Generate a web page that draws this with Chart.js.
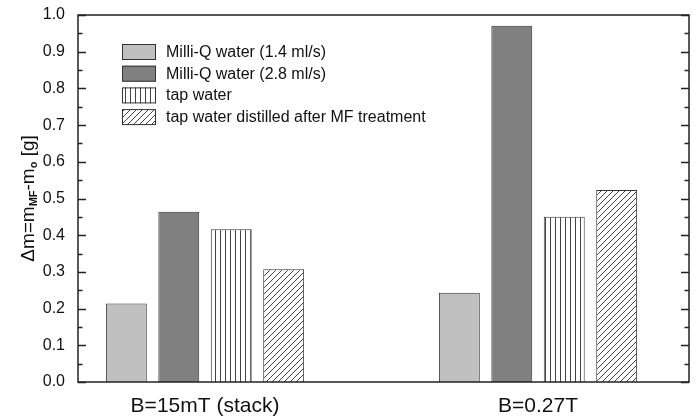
<!DOCTYPE html>
<html>
<head>
<meta charset="utf-8">
<script src="https://cdn.jsdelivr.net/npm/chart.js@4.4.0/dist/chart.umd.min.js"></script>
<style>
  html, body { margin: 0; padding: 0; background: #fff; }
  #wrap { width: 696px; height: 419px; }
</style>
</head>
<body>
<div id="wrap"><canvas id="grafica"></canvas></div>
<script>
const categorias = ["B=15mT (stack)", "B=0.27T"];
const nombres = [
  "Milli-Q water (1.4 ml/s)",
  "Milli-Q water (2.8 ml/s)",
  "tap water",
  "tap water distilled after MF treatment",
];
const milliQ14 = [0.214, 0.243];
const milliQ28 = [0.464, 0.971];
const aguaGrifo = [0.416, 0.45];
const destiladaMF = [0.307, 0.523];
const yMin = 0;
const yMax = 1.0;
const yPaso = 0.1;

const fuente = "'Liberation Sans', Arial, sans-serif";

// patrones de relleno
function rayasVerticales() {
  const c = document.createElement("canvas");
  c.width = 5; c.height = 5;
  const g = c.getContext("2d");
  g.fillStyle = "#fff";
  g.fillRect(0, 0, 5, 5);
  g.fillStyle = "#444";
  g.fillRect(0, 0, 1, 5);
  return g.createPattern(c, "repeat");
}
function rayasDiagonales() {
  const s = 6;
  const c = document.createElement("canvas");
  c.width = s; c.height = s;
  const g = c.getContext("2d");
  g.fillStyle = "#fff";
  g.fillRect(0, 0, s, s);
  g.strokeStyle = "#444";
  g.lineWidth = 1;
  g.beginPath();
  g.moveTo(0, s); g.lineTo(s, 0);
  g.moveTo(-1, 1); g.lineTo(1, -1);
  g.moveTo(s - 1, s + 1); g.lineTo(s + 1, s - 1);
  g.stroke();
  return g.createPattern(c, "repeat");
}

const rellenos = ["#c0c0c0", "#808080", rayasVerticales(), rayasDiagonales()];
const series = [milliQ14, milliQ28, aguaGrifo, destiladaMF];

const leyenda = {
  id: "leyenda",
  afterDatasetsDraw(chart) {
    const { ctx, chartArea } = chart;
    const x0 = chartArea.left + 44;
    let y0 = chartArea.top + 29;
    ctx.save();
    ctx.font = "16px " + fuente;
    ctx.textBaseline = "middle";
    chart.data.datasets.forEach((ds) => {
      ctx.fillStyle = ds.backgroundColor;
      ctx.fillRect(x0, y0, 34, 16);
      ctx.strokeStyle = "#333";
      ctx.lineWidth = 1;
      ctx.strokeRect(x0 + 0.5, y0 + 0.5, 33, 15);
      ctx.fillStyle = "#111";
      ctx.fillText(ds.label, x0 + 44, y0 + 8.5);
      y0 += 21.7;
    });
    ctx.restore();
  },
};

const marco = {
  id: "marco",
  afterDraw(chart) {
    const { ctx, chartArea } = chart;
    const y = chart.scales.y;
    ctx.save();
    ctx.strokeStyle = "#222";
    ctx.lineWidth = 1.5;
    ctx.strokeRect(chartArea.left, chartArea.top, chartArea.right - chartArea.left, chartArea.bottom - chartArea.top);
    ctx.lineWidth = 1.3;
    ctx.beginPath();
    for (let v = yMin; v <= yMax + 1e-9; v += yPaso / 2) {
      const py = Math.round(y.getPixelForValue(v)) + 0.5;
      const mayor = Math.abs(v / yPaso - Math.round(v / yPaso)) < 1e-6;
      const largo = mayor ? 8 : 4.5;
      ctx.moveTo(chartArea.left, py);
      ctx.lineTo(chartArea.left + largo, py);
      ctx.moveTo(chartArea.right, py);
      ctx.lineTo(chartArea.right - largo, py);
    }
    ctx.stroke();

    // titulo del eje y con subindices
    const partes = [
      ["\u0394m=m", false],
      ["MF", true],
      ["-m", false],
      ["o", true],
      [" [g]", false],
    ];
    const fNormal = "19px " + fuente;
    const fSub = "bold 11px " + fuente;
    let total = 0;
    partes.forEach(([t, sub]) => {
      ctx.font = sub ? fSub : fNormal;
      total += ctx.measureText(t).width;
    });
    ctx.translate(27, (chartArea.top + chartArea.bottom) / 2);
    ctx.rotate(-Math.PI / 2);
    ctx.fillStyle = "#111";
    ctx.textBaseline = "alphabetic";
    let px = -total / 2;
    partes.forEach(([t, sub]) => {
      ctx.font = sub ? fSub : fNormal;
      ctx.fillText(t, px, sub ? 10 : 7);
      px += ctx.measureText(t).width;
    });
    ctx.restore();
  },
};

new Chart(document.getElementById("grafica"), {
  type: "bar",
  data: {
    datasets: series.map((valores, i) => ({
      label: nombres[i],
      data: valores.map((v, j) => ({ x: j + 1, y: v })),
      backgroundColor: rellenos[i],
      borderColor: "#333",
      borderWidth: 1,
      categoryPercentage: 0.63,
      barPercentage: 0.78,
    })),
  },
  options: {
    responsive: true,
    maintainAspectRatio: false,
    animation: false,
    layout: { padding: { left: 0, top: 15, right: 7, bottom: 0 } },
    scales: {
      x: {
        type: "linear",
        offset: false,
        min: 0.6186,
        max: 2.4534,
        grid: { display: false, drawTicks: false },
        border: { display: false },
        afterBuildTicks(scale) {
          scale.ticks = categorias.map((c, i) => ({ value: i + 1 }));
        },
        afterFit(scale) {
          scale.height = 37;
          scale.paddingLeft = 0;
          scale.paddingRight = 0;
        },
        ticks: {
          autoSkip: false,
          maxRotation: 0,
          padding: 12,
          color: "#111",
          font: { family: fuente, size: 21 },
          callback: (v) => categorias[v - 1],
        },
      },
      y: {
        min: yMin,
        max: yMax,
        grid: { display: false, drawTicks: false },
        border: { display: false },
        afterFit(scale) {
          scale.width = 78;
          scale.paddingTop = 0;
          scale.paddingBottom = 0;
        },
        ticks: {
          stepSize: yPaso,
          padding: 13,
          color: "#111",
          font: { family: fuente, size: 16 },
          callback: (v) => v.toFixed(1),
        },
      },
    },
    plugins: {
      legend: { display: false },
      tooltip: { enabled: false },
    },
  },
  plugins: [leyenda, marco],
});
</script>
</body>
</html>
